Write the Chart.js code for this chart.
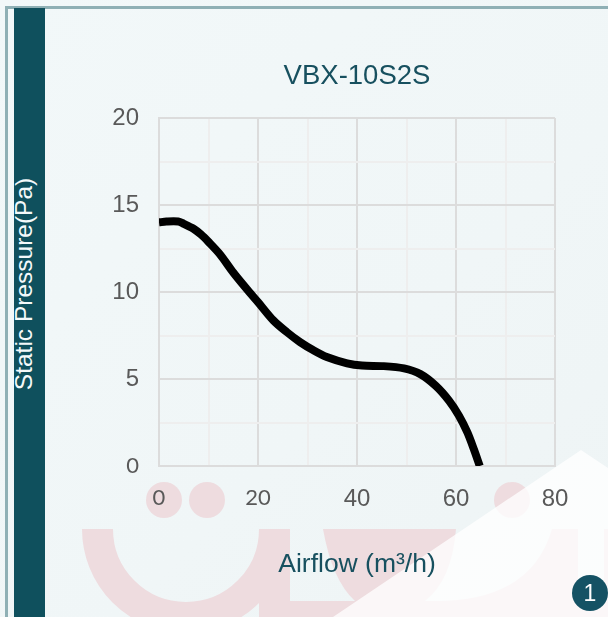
<!DOCTYPE html>
<html>
<head>
<meta charset="utf-8">
<title>VBX-10S2S</title>
<script src="https://cdn.jsdelivr.net/npm/chart.js@4"></script>
<style>
  html, body { margin: 0; padding: 0; }
  body {
    width: 608px; height: 617px; position: relative; overflow: hidden;
    background: linear-gradient(135deg, #f2f8f9 0%, #f0f6f7 60%, #eef4f5 100%);
    font-family: "Liberation Sans", Arial, sans-serif;
  }
  .frame { position: absolute; left: 5px; top: 6px; width: 610px; height: 620px; border: 3px solid #8fb0b5; box-sizing: border-box; }
  .band { position: absolute; left: 14px; top: 8px; width: 31px; height: 609px; background: #0f505d; }
  .band span {
    position: absolute; left: 10px; top: 276px; white-space: nowrap; color: #f4f9fa; font-size: 24.5px;
    transform: translate(-50%, -50%) rotate(-90deg);
  }
  .mark { position: absolute; left: 0; top: 0; }
  canvas { position: absolute; left: 0; top: 0; }
  .badge {
    position: absolute; left: 572px; top: 575px; width: 36px; height: 36px; border-radius: 50%;
    background: #155264; color: #fff; font-size: 23px; line-height: 36px; text-align: center;
  }
</style>
</head>
<body>
<svg class="mark" width="608" height="617">
  <g fill="#eedcdf">
    <circle cx="164" cy="500" r="18"/>
    <circle cx="207" cy="500" r="18"/>
    <circle cx="512" cy="500" r="18"/>
    <path d="M97.5 529 A88.5 88.5 0 0 0 274.5 529" fill="none" stroke="#eedcdf" stroke-width="31"/>
    <rect x="259" y="529" width="31" height="88"/>
    <path d="M323 529 L456 529 Q452 580 425 601 L355 601 Q332 580 323 529 Z"/>
    <rect x="285" y="601" width="323" height="16"/>
    <path d="M552 529 L578 529 L578 617 L420 617 L425 601 Q530 605 552 529 Z"/>
    <rect x="604" y="529" width="4" height="88"/>
  </g>
  <polygon points="581,450 608,468 608,617 333,617" fill="#ffffff" opacity="0.78"/>
</svg>
<div class="frame"></div>
<div class="band"><span>Static Pressure(Pa)</span></div>
<canvas id="fanChart" width="608" height="617"></canvas>
<div class="badge">1</div>

<script>
// curve
const airflow = [0, 1.5, 3.9, 5, 6.9, 8.5, 10, 12.3, 15, 17.7, 20, 23.1, 25.8, 28.5, 31.2, 33.9, 38, 41, 45.4, 49.5, 52.8, 55.9, 58.6, 60.6, 62.3, 63.6, 64.8];
const pressure = [14.0, 14.05, 14.05, 13.92, 13.65, 13.3, 12.88, 12.17, 11.12, 10.18, 9.42, 8.37, 7.7, 7.12, 6.65, 6.26, 5.9, 5.77, 5.74, 5.61, 5.28, 4.61, 3.75, 2.89, 1.93, 0.97, 0];

const xTickLabels = [0, 20, 40, 60, 80];
const yTickLabels = [0, 5, 10, 15, 20];
// these few labels are set in a different face in the original
const xHumanist = [0, 20];
const yHumanist = [0];

const textColor = '#17505f';
const tickColor = '#595959';
const majorGrid = '#dcdcdc';
const minorGrid = '#eeeeee';

function gridColor(labels) {
    return ctx => ctx.tick && labels.includes(ctx.tick.value) ? majorGrid : minorGrid;
}

function tickFont(humanist) {
    return ctx => ctx.tick && humanist.includes(ctx.tick.value)
        ? { family: 'Lato', size: 22 }
        : { family: '"Liberation Sans"', size: 24 };
}

new Chart(document.getElementById('fanChart'), {
    type: 'line',
    data: {
        datasets: [{
            data: airflow.map((x, i) => ({ x, y: pressure[i] })),
            borderColor: '#000000',
            borderWidth: 8,
            pointRadius: 0,
            tension: 0.3,
            clip: 0
        }]
    },
    options: {
        responsive: false,
        animation: false,
        layout: { padding: { left: 59, right: 53, top: 60, bottom: 0 } },
        plugins: {
            legend: { display: false },
            tooltip: { enabled: false },
            title: {
                display: true,
                fullSize: false,
                text: 'VBX-10S2S',
                color: textColor,
                font: { family: '"Liberation Sans"', size: 27.5, weight: 'normal' },
                padding: { top: 0, bottom: 25 }
            }
        },
        scales: {
            x: {
                type: 'linear',
                min: 0,
                max: 80,
                afterFit(s) { s.height = 151; s.paddingLeft = 0; s.paddingRight = 0; },
                grid: { color: gridColor(xTickLabels), lineWidth: 2, drawTicks: false },
                border: { color: majorGrid, width: 2 },
                ticks: {
                    stepSize: 10,
                    autoSkip: false,
                    maxRotation: 0,
                    padding: 19,
                    color: tickColor,
                    font: tickFont(xHumanist),
                    callback: v => xTickLabels.includes(v) ? String(v) : ''
                },
                title: {
                    display: true,
                    text: 'Airflow (m³/h)',
                    color: textColor,
                    font: { family: '"Liberation Sans"', size: 26.5 },
                    padding: { top: 0, bottom: 36 }
                }
            },
            y: {
                min: 0,
                max: 20,
                afterFit(s) { s.width = 100; s.paddingTop = 0; s.paddingBottom = 0; },
                grid: { color: gridColor(yTickLabels), lineWidth: 2, drawTicks: false },
                border: { color: majorGrid, width: 2 },
                ticks: {
                    stepSize: 2.5,
                    autoSkip: false,
                    padding: 20,
                    color: tickColor,
                    font: tickFont(yHumanist),
                    callback: v => yTickLabels.includes(v) ? String(v) : ''
                }
            }
        }
    }
});
</script>
</body>
</html>
